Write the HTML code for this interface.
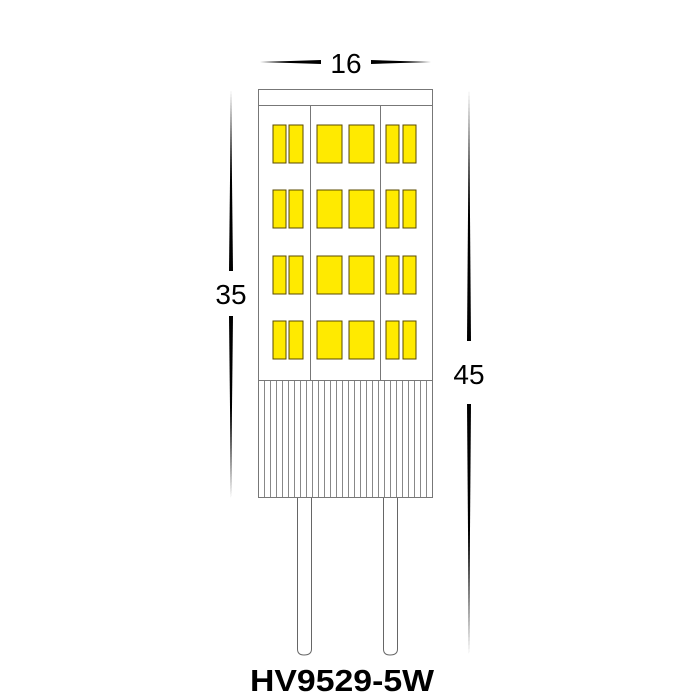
<!DOCTYPE html>
<html><head><style>body{margin:0;background:#fff}svg{display:block}</style></head>
<body>
<svg width="700" height="700" viewBox="0 0 700 700" xmlns="http://www.w3.org/2000/svg">
<rect width="700" height="700" fill="#fff"/>
<!-- top dimension -->
<polygon points="260,62 321,60 321,64" fill="#000"/>
<polygon points="431,62 371,60 371,64" fill="#000"/>
<text x="346" y="73" font-family="Liberation Sans, sans-serif" font-size="28" text-anchor="middle">16</text>
<!-- left dim -->
<polygon points="231,90 229,271 233,271" fill="#000"/>
<polygon points="231,498 229,316 233,316" fill="#000"/>
<text x="231" y="304" font-family="Liberation Sans, sans-serif" font-size="28" text-anchor="middle">35</text>
<!-- right dim -->
<polygon points="469,90 467,341 471,341" fill="#000"/>
<polygon points="469,655 467,404 471,404" fill="#000"/>
<text x="469" y="384" font-family="Liberation Sans, sans-serif" font-size="28" text-anchor="middle">45</text>
<!-- body -->
<g stroke="#777" stroke-width="1" fill="none">
<rect x="258.5" y="89.5" width="174" height="408"/>
<line x1="258" y1="105.5" x2="433" y2="105.5"/>
<line x1="310.5" y1="105" x2="310.5" y2="380"/>
<line x1="380.5" y1="105" x2="380.5" y2="380"/>
<line x1="258" y1="380.5" x2="433" y2="380.5"/>
</g>
<g stroke="#888" stroke-width="1">
<line x1="264.5" y1="381" x2="264.5" y2="497"/><line x1="270.5" y1="381" x2="270.5" y2="497"/><line x1="276.5" y1="381" x2="276.5" y2="497"/><line x1="282.5" y1="381" x2="282.5" y2="497"/><line x1="288.5" y1="381" x2="288.5" y2="497"/><line x1="294.5" y1="381" x2="294.5" y2="497"/><line x1="300.5" y1="381" x2="300.5" y2="497"/><line x1="306.5" y1="381" x2="306.5" y2="497"/><line x1="312.5" y1="381" x2="312.5" y2="497"/><line x1="318.5" y1="381" x2="318.5" y2="497"/><line x1="324.5" y1="381" x2="324.5" y2="497"/><line x1="330.5" y1="381" x2="330.5" y2="497"/><line x1="336.5" y1="381" x2="336.5" y2="497"/><line x1="342.5" y1="381" x2="342.5" y2="497"/><line x1="348.5" y1="381" x2="348.5" y2="497"/><line x1="354.5" y1="381" x2="354.5" y2="497"/><line x1="360.5" y1="381" x2="360.5" y2="497"/><line x1="366.5" y1="381" x2="366.5" y2="497"/><line x1="372.5" y1="381" x2="372.5" y2="497"/><line x1="378.5" y1="381" x2="378.5" y2="497"/><line x1="384.5" y1="381" x2="384.5" y2="497"/><line x1="390.5" y1="381" x2="390.5" y2="497"/><line x1="396.5" y1="381" x2="396.5" y2="497"/><line x1="402.5" y1="381" x2="402.5" y2="497"/><line x1="408.5" y1="381" x2="408.5" y2="497"/><line x1="414.5" y1="381" x2="414.5" y2="497"/><line x1="420.5" y1="381" x2="420.5" y2="497"/><line x1="426.5" y1="381" x2="426.5" y2="497"/>
</g>
<!-- pins -->
<g stroke="#666" stroke-width="1" fill="#fff">
<path d="M297.5,498 V649 Q297.5,655 304,655 Q311.5,655 311.5,649 V498"/>
<path d="M383.5,498 V649 Q383.5,655 390,655 Q397.5,655 397.5,649 V498"/>
</g>
<!-- LEDs -->
<g fill="#ffea00" stroke="#5a4a00" stroke-width="1">
<g id="r"><rect x="273" y="125" width="13" height="38"/><rect x="289" y="125" width="14" height="38"/><rect x="317" y="125" width="25" height="38"/><rect x="349" y="125" width="25" height="38"/><rect x="386" y="125" width="13" height="38"/><rect x="403" y="125" width="13" height="38"/></g>
<use href="#r" y="65"/><use href="#r" y="131"/><use href="#r" y="196"/>
</g>
<text x="250" y="691" font-family="Liberation Sans, sans-serif" font-weight="bold" font-size="31" textLength="184" lengthAdjust="spacingAndGlyphs">HV9529-5W</text>
</svg>
</body></html>
